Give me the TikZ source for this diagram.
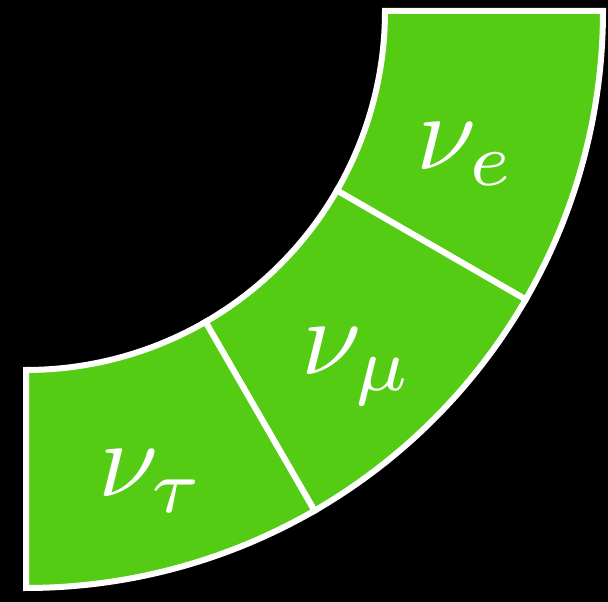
\documentclass[tikz,border=0pt]{standalone}
\usepackage{tikz}
\usetikzlibrary{calc}
\definecolor{ringgreen}{HTML}{55CC14}

\begin{document}
\begin{tikzpicture}[x=1pt,y=1pt]
  \tikzset{
    sector/.style={fill=ringgreen,draw=white,line width=6pt},
    flavour/.style={text=white,inner sep=0pt,scale=10.8}
  }
  % Background
  \fill[black] (0,0) rectangle (608,602);
  \useasboundingbox (0,0) rectangle (608,602);
  \coordinate (c) at (26,591);

  % Ring sectors
  \foreach \a in {0,-30,-60}{
    \filldraw[sector] ($(c)+(\a:359)$)
      arc[start angle=\a,end angle=\a-30,radius=359]
      -- ($(c)+(\a-30:577)$)
      arc[start angle=\a-30,end angle=\a,radius=577] -- cycle;
  }

  % Flavour labels
  \node[flavour] (nue) at ($(c)+(-18:463)$) {$\nu_e$};
  \node[flavour] (numu) at ($(c)+(-47:486)$) {$\nu_\mu$};
  \node[flavour] (nutau) at ($(c)+(-75:487)$) {$\nu_\tau$};
\end{tikzpicture}
\end{document}
